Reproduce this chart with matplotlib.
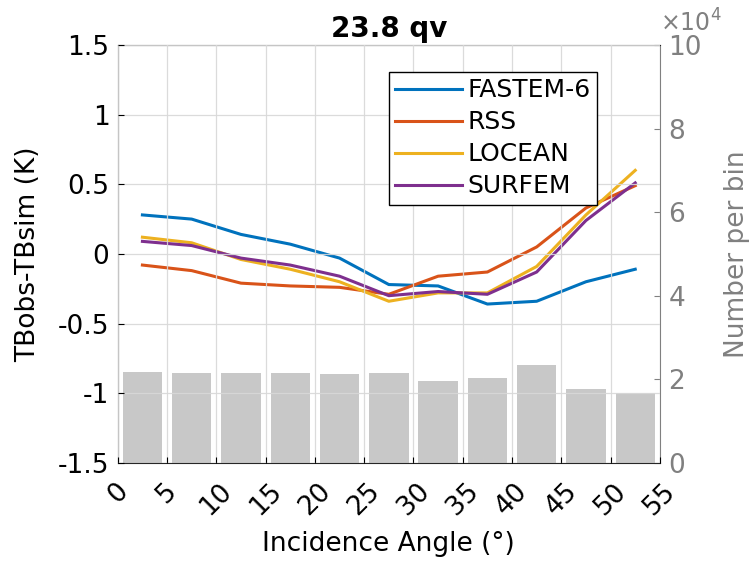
import matplotlib
matplotlib.use("Agg")
import matplotlib.pyplot as plt
import numpy as np

angles = [2.5, 7.5, 12.5, 17.5, 22.5, 27.5, 32.5, 37.5, 42.5, 47.5, 52.5]
fastem6 = [0.28, 0.25, 0.14, 0.07, -0.03, -0.22, -0.23, -0.36, -0.34, -0.20, -0.11]
rss = [-0.08, -0.12, -0.21, -0.23, -0.24, -0.29, -0.16, -0.13, 0.05, 0.33, 0.49]
locean = [0.12, 0.08, -0.04, -0.11, -0.20, -0.34, -0.28, -0.28, -0.09, 0.28, 0.60]
surfem = [0.09, 0.06, -0.03, -0.08, -0.16, -0.30, -0.27, -0.29, -0.13, 0.24, 0.51]
counts = [21700, 21400, 21400, 21400, 21200, 21600, 19600, 20200, 23400, 17600, 16700]
xticks = [0, 5, 10, 15, 20, 25, 30, 35, 40, 45, 50, 55]
yticks = [-1.5, -1, -0.5, 0, 0.5, 1, 1.5]
ytick_labels = ["-1.5", "-1", "-0.5", "0", "0.5", "1", "1.5"]
rticks = [0, 2, 4, 6, 8, 10]

plt.rcParams['font.family'] = ['DejaVu Sans']
fig = plt.figure(figsize=(7.55, 5.63), dpi=100)
ax = fig.add_axes([0.156, 0.178, 0.718, 0.742])
ax2 = ax.twinx()

gray = '#808080'
ax2.bar(angles, np.array(counts) / 1e4, width=4.0, color='#c8c8c8', zorder=1)
ax2.set_ylim(0, 10)
ax2.set_yticks(rticks)
ax2.set_yticklabels([str(t) for t in rticks], fontsize=19, color=gray)
ax2.tick_params(axis='y', colors=gray, direction='in', length=4, pad=6)
ax2.set_ylabel('Number per bin', fontsize=19, color=gray, labelpad=16)
ax2.text(1.0, 1.02, r'$\times10^4$', transform=ax2.transAxes, fontsize=17, color=gray,
         ha='left', va='bottom')
for s in ['left', 'top', 'bottom']:
    ax2.spines[s].set_visible(False)
ax2.spines['right'].set_color(gray)

ax.set_zorder(ax2.get_zorder() + 1)
ax.patch.set_visible(False)

cols = ['#0072BD', '#D95319', '#EDB120', '#7E2F8E']
names = ['FASTEM-6', 'RSS', 'LOCEAN', 'SURFEM']
for d, c, n in zip([fastem6, rss, locean, surfem], cols, names):
    ax.plot(angles, d, color=c, lw=2.2, label=n)

ax.set_xlim(0, 55)
ax.set_ylim(-1.5, 1.5)
ax.set_xticks(xticks)
ax.set_xticklabels([str(t) for t in xticks], rotation=45, fontsize=19)
ax.set_yticks(yticks)
ax.set_yticklabels(ytick_labels, fontsize=19)
ax.tick_params(direction='in', length=4, pad=6)
ax.tick_params(axis='x', pad=11)
ax.grid(True, color='#d8d8d8', lw=0.9, alpha=0.9)
ax.set_axisbelow(False)
for s in ['left', 'top', 'bottom']:
    ax.spines[s].set_color('#262626')
ax.spines['right'].set_visible(False)
ax.set_xlabel('Incidence Angle (°)', fontsize=19, labelpad=8)
ax.set_ylabel('TBobs-TBsim (K)', fontsize=19, labelpad=12)
ax.set_title('23.8 qv', fontsize=20, fontweight='bold', pad=6)

leg = ax.legend(loc='upper right', bbox_to_anchor=(0.884, 0.935), fontsize=18,
                fancybox=False, edgecolor='black', framealpha=1, handlelength=2.7,
                borderpad=0.25, labelspacing=0.32, handletextpad=0.2, borderaxespad=0)
leg.get_frame().set_linewidth(1.0)

fig.savefig('out.png', dpi=100)
